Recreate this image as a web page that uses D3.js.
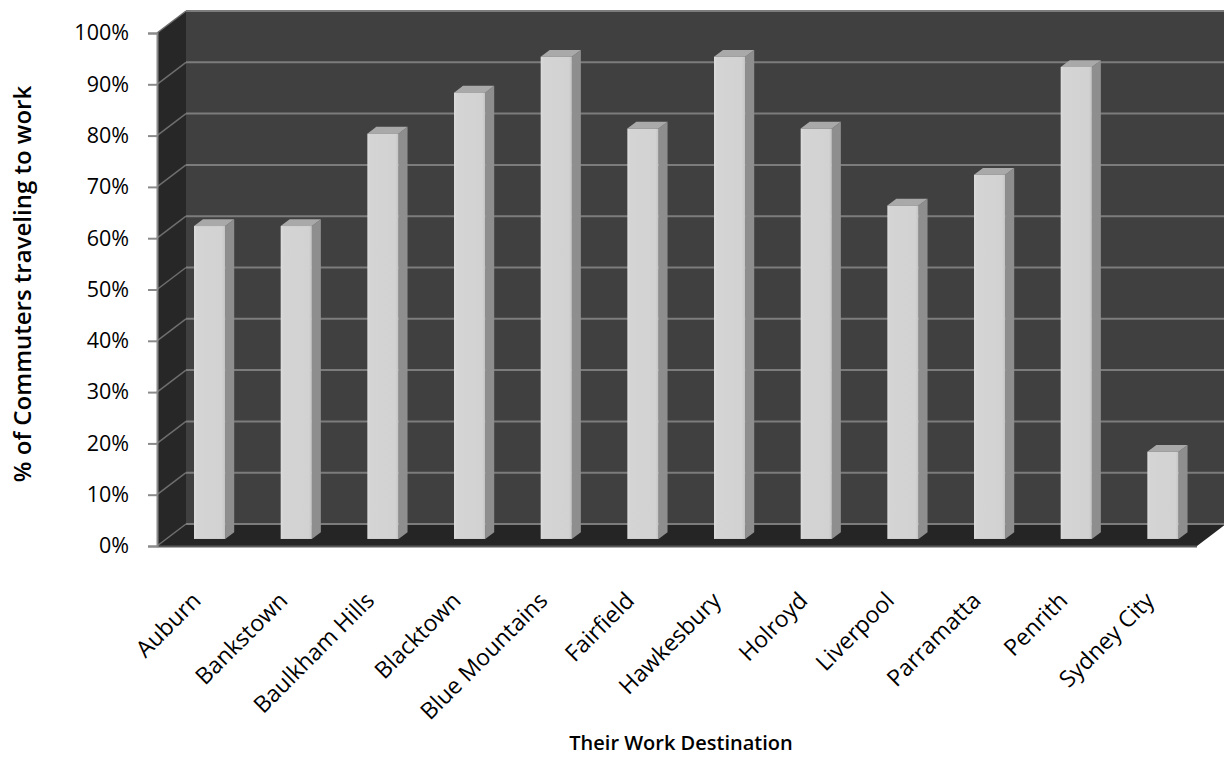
<!DOCTYPE html>
<html>
<head>
<meta charset="utf-8">
<script src="https://cdn.jsdelivr.net/npm/d3@7"></script>
<style>
  html, body { margin: 0; padding: 0; background: #ffffff; }
  svg { display: block; }
  text { font-family: "Open Sans", "Noto Sans", sans-serif; fill: #000; }
</style>
</head>
<body>
<svg id="chart" width="1224" height="778"></svg>
<script>
// ---------- data ----------
const categories = ["Auburn", "Bankstown", "Baulkham Hills", "Blacktown", "Blue Mountains",
  "Fairfield", "Hawkesbury", "Holroyd", "Liverpool", "Parramatta", "Penrith", "Sydney City"];
const values = [61, 61, 79, 87, 94, 80, 94, 80, 65, 71, 92, 17];
const yTickValues = [0, 10, 20, 30, 40, 50, 60, 70, 80, 90, 100];
const yTickLabels = ["0%", "10%", "20%", "30%", "40%", "50%", "60%", "70%", "80%", "90%", "100%"];
const xTitle = "Their Work Destination";
const yTitle = "% of Commuters traveling to work";

// ---------- layout ----------
const W = 1224, H = 778;
const plotLeft = 157, plotRight = 1197, plotTop = 33, plotBottom = 546;
const depthX = 29, depthY = 22;           // full depth projection offset
const barF0 = 0.32, barF1 = 0.63;          // bar depth extent (fraction of depth)

const svg = d3.select("#chart");

const x = d3.scaleBand().domain(categories).range([plotLeft, plotRight]).paddingInner(0).paddingOuter(0);
const y = d3.scaleLinear().domain([0, 100]).range([plotBottom, plotTop]);

const off = f => [depthX * f, -depthY * f];
const pts = arr => arr.map(p => p.join(",")).join(" ");

const defs = svg.append("defs");
const barFront = defs.append("linearGradient").attr("id", "barFront").attr("x1", 0).attr("y1", 0).attr("x2", 1).attr("y2", 0);
barFront.append("stop").attr("offset", 0).attr("stop-color", "#dcdcdc");
barFront.append("stop").attr("offset", 0.1).attr("stop-color", "#d4d4d4");
barFront.append("stop").attr("offset", 0.9).attr("stop-color", "#d2d2d2");
barFront.append("stop").attr("offset", 1).attr("stop-color", "#c4c4c4");

const [bx, by] = off(1);

// back wall
svg.append("polygon")
  .attr("points", pts([[plotLeft + bx, y(100) + by], [W + 5, y(100) + by], [W + 5, y(0) + by], [plotLeft + bx, y(0) + by]]))
  .attr("fill", "#404040");
svg.append("line")
  .attr("x1", plotLeft + bx).attr("x2", W)
  .attr("y1", y(100) + by).attr("y2", y(100) + by)
  .attr("stroke", "#9a9a9a").attr("stroke-width", 1.5);

// left side wall
svg.append("polygon")
  .attr("points", pts([[plotLeft, y(100)], [plotLeft + bx, y(100) + by], [plotLeft + bx, y(0) + by], [plotLeft, y(0)]]))
  .attr("fill", "#272727");

// floor
svg.append("polygon")
  .attr("points", pts([[plotLeft, y(0)], [plotRight, y(0)], [plotRight + bx, y(0) + by], [plotLeft + bx, y(0) + by]]))
  .attr("fill", "#252525");
svg.append("line")
  .attr("x1", plotLeft).attr("x2", plotRight)
  .attr("y1", y(0) + 0.5).attr("y2", y(0) + 0.5)
  .attr("stroke", "#5a5a5a").attr("stroke-width", 2);

// gridlines: back wall + left wall
const grid = svg.append("g");
yTickValues.forEach(v => {
  grid.append("line")
    .attr("x1", plotLeft + bx).attr("x2", W + 5)
    .attr("y1", y(v) + by).attr("y2", y(v) + by)
    .attr("stroke", "#7c7c7c").attr("stroke-width", 2);
  grid.append("line")
    .attr("x1", plotLeft).attr("x2", plotLeft + bx)
    .attr("y1", y(v)).attr("y2", y(v) + by)
    .attr("stroke", "#6e6e6e").attr("stroke-width", 1.5);
});

// bars
const barW = x.bandwidth() * 0.36;
const [ox0, oy0] = off(barF0);
const [dX, dY] = [depthX * (barF1 - barF0), depthY * (barF1 - barF0)];
const bars = svg.append("g");
categories.forEach((c, i) => {
  const cx = x(c) + x.bandwidth() / 2 + ox0;
  const x0 = cx - barW / 2, x1 = cx + barW / 2;
  const yt = y(values[i]) + oy0, yb = y(0) + oy0;
  const g = bars.append("g");
  g.append("polygon")
    .attr("points", pts([[x1, yt], [x1 + dX, yt - dY], [x1 + dX, yb - dY], [x1, yb]]))
    .attr("fill", "#8e8e8e");
  g.append("polygon")
    .attr("points", pts([[x0, yt], [x0 + dX, yt - dY], [x1 + dX, yt - dY], [x1, yt]]))
    .attr("fill", "#a9a9a9");
  g.append("rect")
    .attr("x", x0).attr("y", yt).attr("width", barW).attr("height", yb - yt)
    .attr("fill", "url(#barFront)");
});

// y axis
const yAxis = d3.axisLeft(y)
  .tickValues(yTickValues)
  .tickFormat((d, i) => yTickLabels[i])
  .tickSize(9)
  .tickPadding(19);
const ya = svg.append("g").attr("transform", `translate(${plotLeft},0)`).call(yAxis);
ya.select(".domain").attr("stroke", "#8a8a8a").attr("stroke-width", 2);
ya.selectAll(".tick line").attr("stroke", "#8a8a8a").attr("stroke-width", 2);
ya.selectAll(".tick text")
  .attr("font-family", "'Open Sans', sans-serif")
  .attr("font-size", 21.5)
  .attr("fill", "#000");

// x labels (rotated)
const xl = svg.append("g");
categories.forEach(c => {
  const ax = x(c) + x.bandwidth() / 2 + 2, ay = 602;
  xl.append("text")
    .attr("transform", `translate(${ax},${ay}) rotate(-45)`)
    .attr("text-anchor", "end")
    .attr("font-size", 23)
    .text(c);
});

// axis titles
svg.append("text")
  .attr("x", 681).attr("y", 750)
  .attr("text-anchor", "middle")
  .attr("font-size", 20).attr("font-weight", 600)
  .text(xTitle);

svg.append("text")
  .attr("transform", `translate(31,284) rotate(-90)`)
  .attr("text-anchor", "middle")
  .attr("font-size", 24).attr("font-weight", 600)
  .text(yTitle);
</script>
</body>
</html>
